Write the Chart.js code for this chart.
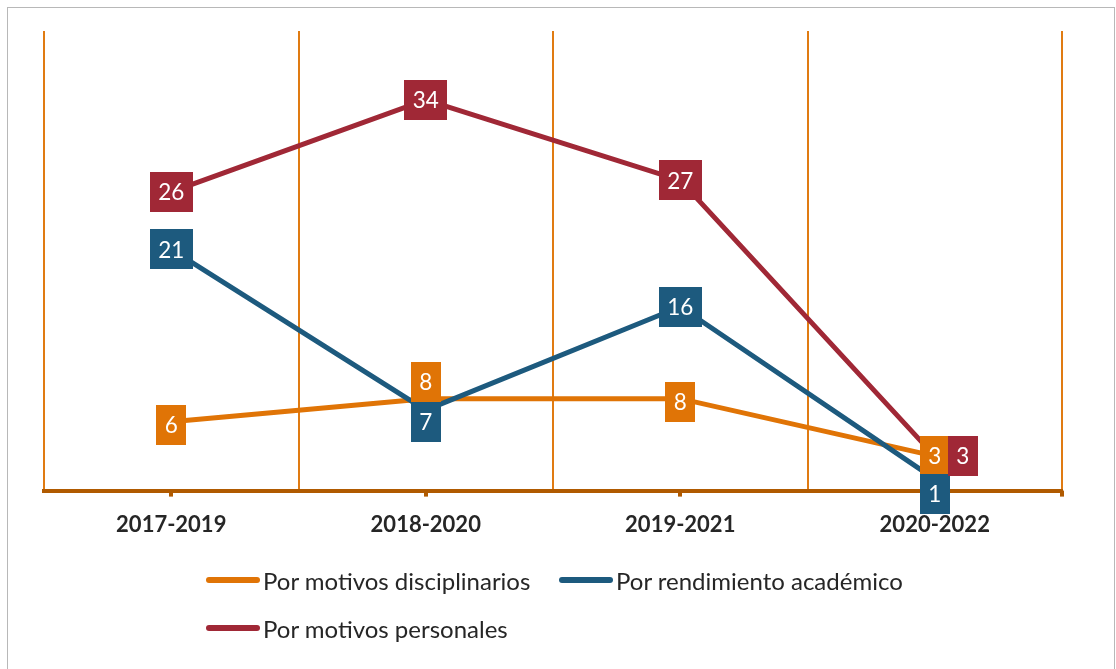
<!DOCTYPE html>
<html>
<head>
<meta charset="utf-8">
<script src="https://cdn.jsdelivr.net/npm/chart.js@4.4.1/dist/chart.umd.min.js"></script>
<style>
  body { margin: 0; background: #fff; }
  #wrap { position: relative; width: 1116px; height: 669px; overflow: hidden; }
  #frame { position: absolute; left: 7px; top: 7px; width: 1108px; height: 700px; border: 1px solid #b8b8b8; box-sizing: border-box; }
  canvas { position: absolute; left: 0; top: 0; }
  .legend { position: absolute; font-family: Lato, sans-serif; font-size: 24px; color: #262626; white-space: nowrap; }
  .legend .item { position: absolute; display: flex; align-items: center; }
  .legend .swatch { width: 54px; height: 6px; border-radius: 3px; margin-right: 3px; }
</style>
</head>
<body>
<div id="wrap">
  <div id="frame"></div>
  <canvas id="myChart" width="1116" height="669"></canvas>
  <div class="legend" id="legend"></div>
</div>
<script>
// Chart data
const periods = ['2017-2019', '2018-2020', '2019-2021', '2020-2022'];
const disciplinarios = [6, 8, 8, 3];
const rendimiento = [21, 7, 16, 1];
const personales = [26, 34, 27, 3];

const seriesNames = ['Por motivos disciplinarios', 'Por rendimiento académico', 'Por motivos personales'];
const seriesColors = ['#E07406', '#1D5A7E', '#A02836'];

// label nudges (px) so boxes don't sit on each other, like in the original
const labelShiftX = [[0, 0, 0, 0], [0, 0, 0, 0], [0, 0, 0, 28]];
const labelShiftY = [[3, -17, 3, 0], [0, 12, 0, 15], [0, 0, 0, 0]];

const axisBrown = '#B05A00';
const gridOrange = '#E07B12';

// boxed value labels
const boxLabels = {
    id: 'boxLabels',
    beforeDatasetsDraw(chart) {
        // small tick marks under the axis at each category
        const ctx = chart.ctx;
        const xs = chart.scales.x;
        const bottom = chart.chartArea.bottom;
        ctx.save();
        ctx.fillStyle = axisBrown;
        periods.forEach((p, i) => {
            const x = xs.getPixelForValue(i);
            ctx.fillRect(Math.round(x - 2), bottom, 4, 6);
        });
        ctx.fillRect(Math.round(chart.chartArea.right - 2), bottom, 4, 6);
        ctx.restore();
    },
    afterDatasetsDraw(chart) {
        const ctx = chart.ctx;
        ctx.save();
        ctx.font = '22.5px Lato, sans-serif';
        ctx.textAlign = 'center';
        ctx.textBaseline = 'middle';
        [0, 1, 2].forEach(di => {
            const meta = chart.getDatasetMeta(di);
            const ds = chart.data.datasets[di];
            meta.data.forEach((pt, i) => {
                const text = String(ds.data[i]);
                const x = pt.x + labelShiftX[di][i];
                const y = pt.y + labelShiftY[di][i];
                const w = ctx.measureText(text).width + 17;
                const h = 40;
                ctx.fillStyle = ds.borderColor;
                ctx.fillRect(Math.round(x - w / 2), Math.round(y - h / 2), Math.round(w), h);
                ctx.fillStyle = '#ffffff';
                ctx.fillText(text, x, y + 1);
            });
        });
        ctx.restore();
    }
};

const ctx = document.getElementById('myChart').getContext('2d');
const myChart = new Chart(ctx, {
    type: 'line',
    data: {
        labels: periods,
        datasets: [
            { label: seriesNames[0], data: disciplinarios, borderColor: seriesColors[0], order: 3 },
            { label: seriesNames[1], data: rendimiento, borderColor: seriesColors[1], order: 2 },
            { label: seriesNames[2], data: personales, borderColor: seriesColors[2], order: 1 }
        ]
    },
    options: {
        responsive: false,
        animation: false,
        layout: { padding: { left: 44, right: 54, top: 31, bottom: 110 } },
        elements: {
            line: { borderWidth: 5, tension: 0, borderCapStyle: 'butt', borderJoinStyle: 'miter' },
            point: { radius: 0, hoverRadius: 0 }
        },
        plugins: {
            legend: { display: false },
            tooltip: { enabled: false }
        },
        scales: {
            x: {
                offset: true,
                grid: { display: true, offset: true, color: gridOrange, lineWidth: 2, drawTicks: false },
                border: { display: true, color: axisBrown, width: 4 },
                ticks: { color: '#262626', padding: 21, font: { family: 'Lato', size: 22, weight: 'bold' } }
            },
            y: {
                display: false,
                min: 0,
                max: 40
            }
        }
    },
    plugins: [boxLabels]
});

// HTML legend
const legendPos = [[206, 580], [559, 580], [206, 628]];
const legend = document.getElementById('legend');
seriesNames.forEach((name, i) => {
    const item = document.createElement('div');
    item.className = 'item';
    item.style.left = legendPos[i][0] + 'px';
    item.style.top = (legendPos[i][1] - 15) + 'px';
    item.style.height = '30px';
    item.innerHTML = '<span class="swatch" style="background:' + seriesColors[i] + '"></span><span>' + name + '</span>';
    legend.appendChild(item);
});
</script>
</body>
</html>
